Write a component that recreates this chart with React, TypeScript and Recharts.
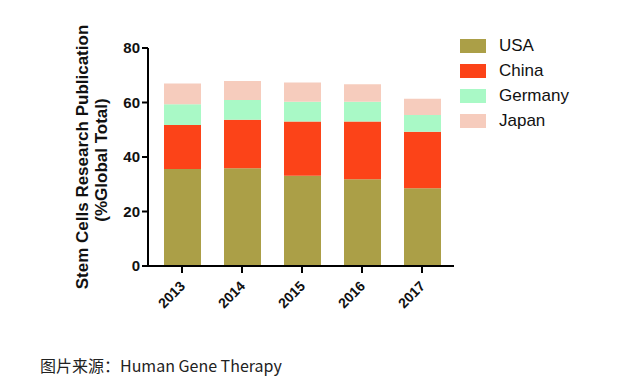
import React from "react";
import { BarChart, Bar, XAxis, YAxis } from "recharts";

const years = ["2013", "2014", "2015", "2016", "2017"];
const usa = [35.6, 35.9, 33.1, 31.8, 28.5];
const china = [16.1, 17.8, 19.9, 21.2, 20.8];
const germany = [7.7, 7.2, 7.3, 7.3, 6.1];
const japan = [7.6, 7.0, 7.0, 6.4, 6.0];
const yTicks = [0, 20, 40, 60, 80];

const series = [
  { key: "USA", color: "#ab9f47" },
  { key: "China", color: "#fc4318" },
  { key: "Germany", color: "#a9f9c6" },
  { key: "Japan", color: "#f6ccbd" },
];

const data = years.map((year, i) => ({
  year,
  USA: usa[i],
  China: china[i],
  Germany: germany[i],
  Japan: japan[i],
}));

const FONT = "'Liberation Sans', Arial, sans-serif";

function XTick(props: any) {
  const { x, y, payload } = props;
  return (
    <text
      x={x + 4}
      y={y + 12}
      textAnchor="end"
      transform={`rotate(-45, ${x + 4}, ${y + 12})`}
      fontFamily={FONT}
      fontSize={14}
      fontWeight="bold"
      fill="#111"
    >
      {payload.value}
    </text>
  );
}

function YLabel() {
  return (
    <g fontFamily={FONT} fontSize={17} fontWeight="bold" fill="#111">
      <text
        x={82}
        y={157}
        textAnchor="middle"
        dominantBaseline="central"
        transform="rotate(-90, 82, 157)"
      >
        Stem Cells Research Publication
      </text>
      <text
        x={101}
        y={160}
        textAnchor="middle"
        dominantBaseline="central"
        transform="rotate(-90, 101, 160)"
      >
        (%Global Total)
      </text>
    </g>
  );
}

// legend drawn as plain html so it does not eat plot space
function LegendBox() {
  return (
    <div
      style={{
        position: "absolute",
        left: 460,
        top: 33,
        fontFamily: FONT,
        fontSize: 17,
        color: "#111",
      }}
    >
      {series.map((s) => (
        <div
          key={s.key}
          style={{ display: "flex", alignItems: "center", height: 25 }}
        >
          <span
            style={{
              display: "inline-block",
              width: 26,
              height: 14,
              background: s.color,
              marginRight: 13,
            }}
          />
          {s.key}
        </div>
      ))}
    </div>
  );
}

export default function App() {
  return (
    <div
      style={{
        position: "absolute",
        left: 0,
        top: 0,
        width: 617,
        height: 388,
        background: "#fff",
      }}
    >
      <BarChart
        width={617}
        height={388}
        data={data}
        margin={{ top: 48, right: 163, bottom: 62, left: 88 }}
      >
        <XAxis
          dataKey="year"
          axisLine={{ stroke: "#000", strokeWidth: 2 }}
          tickLine={{ stroke: "#000", strokeWidth: 2 }}
          tickSize={7}
          tickMargin={2}
          height={60}
          padding={{ left: 4, right: 2 }}
          tick={<XTick />}
          interval={0}
        />
        <YAxis
          domain={[0, 80]}
          ticks={yTicks}
          width={60}
          axisLine={{ stroke: "#000", strokeWidth: 2 }}
          tickLine={{ stroke: "#000", strokeWidth: 2 }}
          tickSize={6}
          tickMargin={2}
          tick={{
            fontFamily: FONT,
            fontSize: 15,
            fontWeight: "bold",
            fill: "#111",
          }}
          label={{ content: () => <YLabel /> }}
        />
        {series.map((s) => (
          <Bar
            key={s.key}
            dataKey={s.key}
            stackId="a"
            fill={s.color}
            barSize={37}
            isAnimationActive={false}
          />
        ))}
      </BarChart>
      <LegendBox />
      <div
        style={{
          position: "absolute",
          left: 40,
          top: 353,
          fontFamily: "'Noto Sans CJK SC', 'Noto Sans', sans-serif",
          fontSize: 16,
          color: "#222",
          whiteSpace: "nowrap",
        }}
      >
        图片来源：Human Gene Therapy
      </div>
    </div>
  );
}
